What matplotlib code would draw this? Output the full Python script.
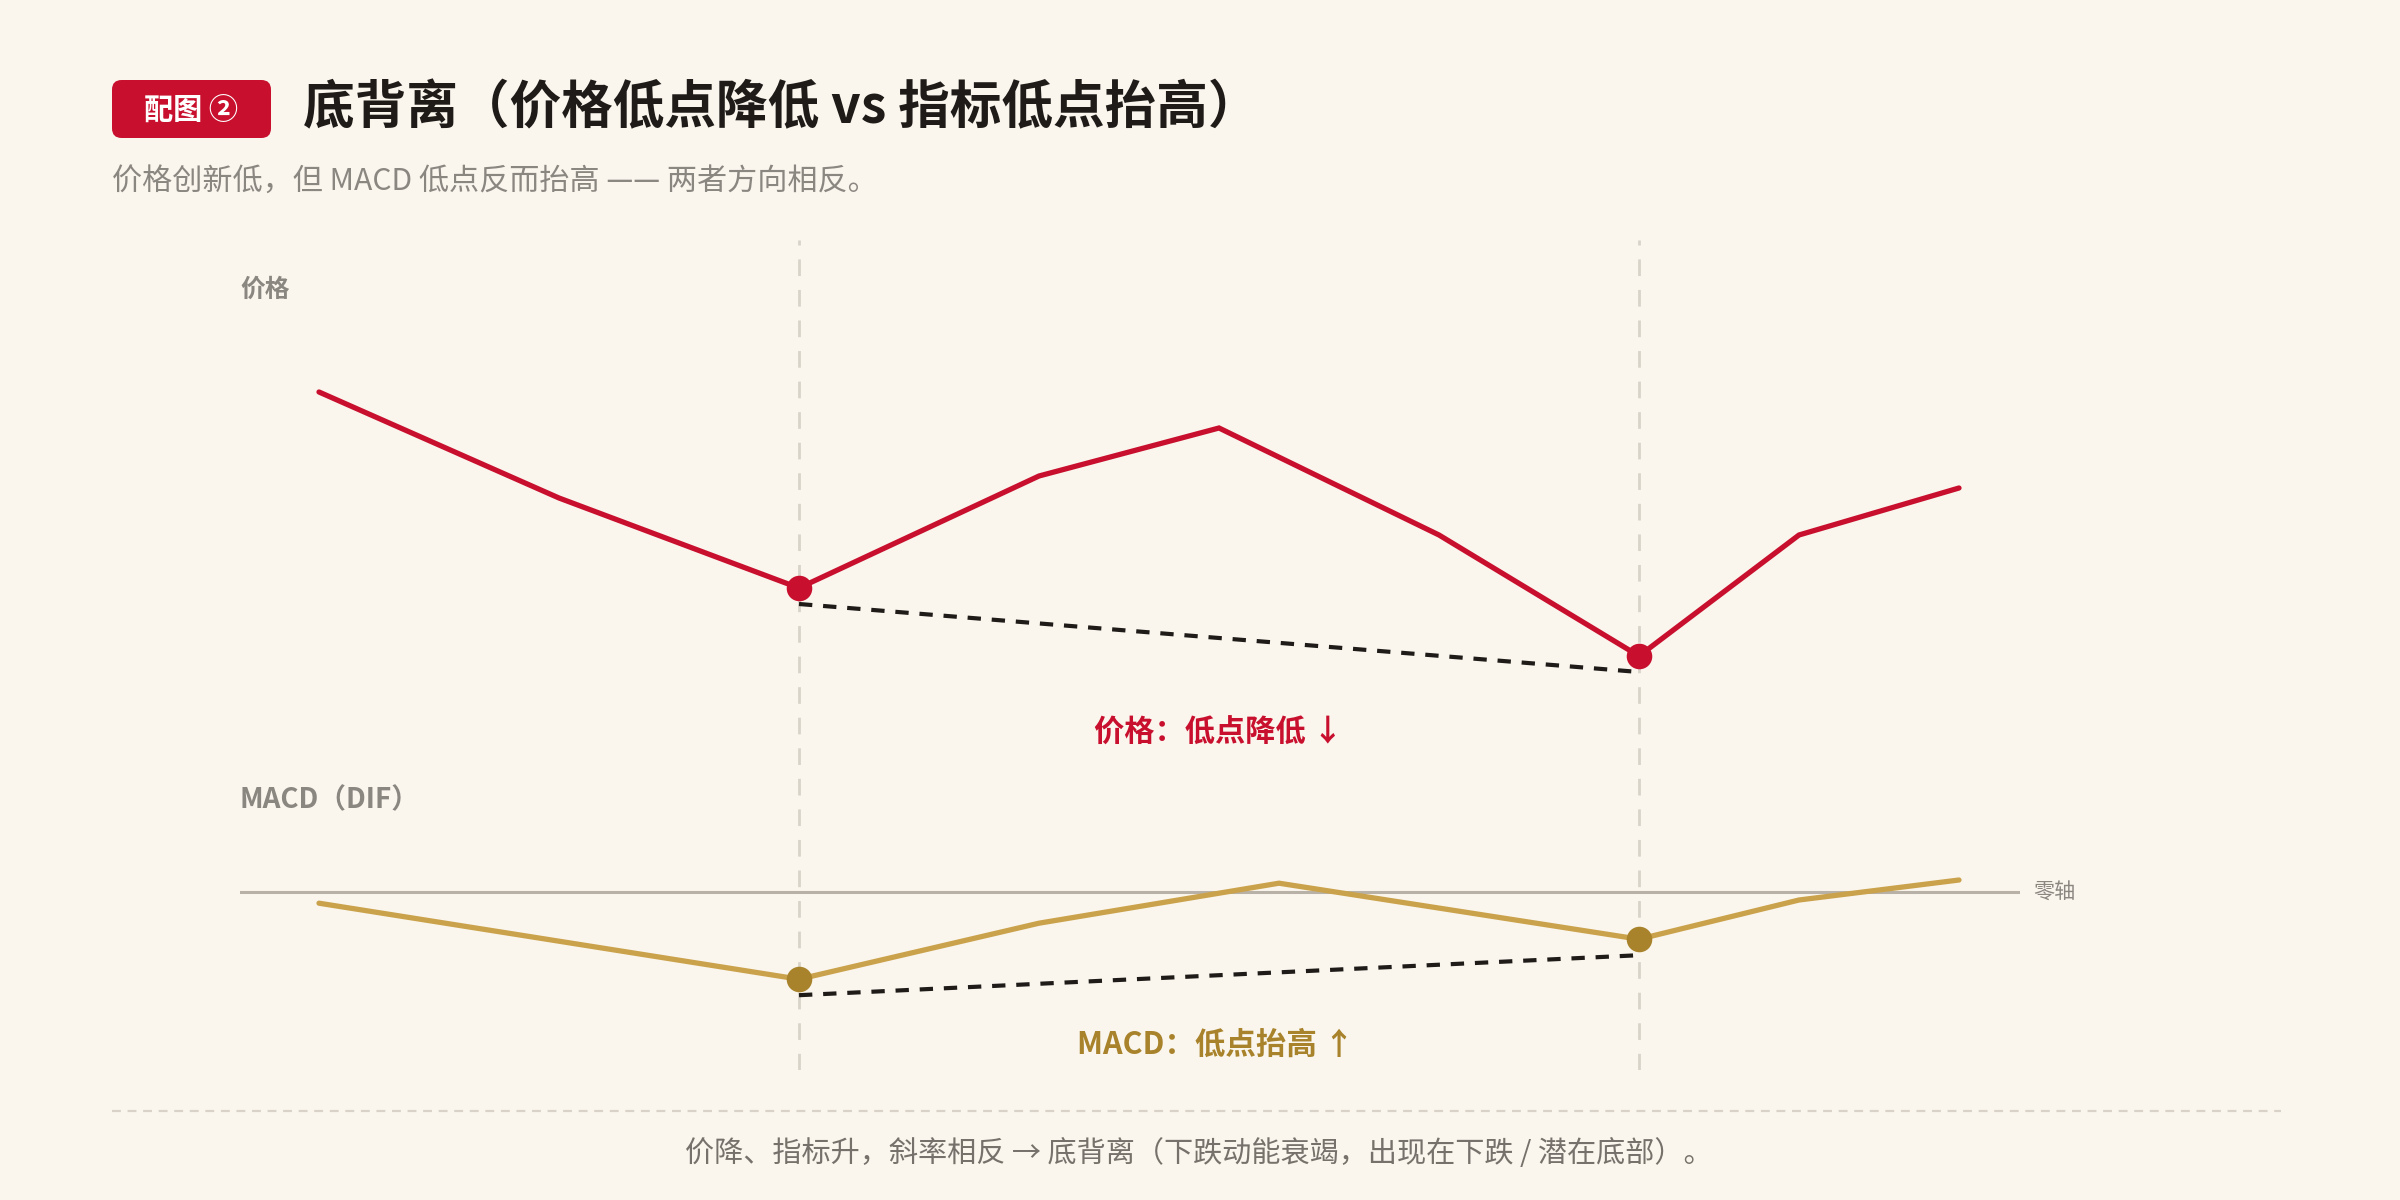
import matplotlib
matplotlib.use("Agg")
import matplotlib.pyplot as plt
from matplotlib.patches import FancyBboxPatch
from matplotlib.lines import Line2D
from matplotlib.transforms import offset_copy

plt.rcParams['font.family'] = ['Noto Sans CJK SC', 'DejaVu Sans']

# ---------------- data ----------------
price_x = [0, 12, 24, 36, 45, 56, 66, 74, 82]
price_y = [69.6, 48.4, 30.4, 52.8, 62.4, 41.0, 16.8, 41.0, 50.4]
macd_x = [0, 24, 36, 48, 66, 74, 82]
macd_y = [-0.28, -2.18, -0.78, 0.22, -1.18, -0.20, 0.30]
low_x = [24, 66]                 # the two troughs
price_lows = [30.4, 16.8]
macd_lows = [-2.18, -1.18]

title = "底背离（价格低点降低 vs 指标低点抬高）"
badge = "配图 ②"
subtitle = "价格创新低，但 MACD 低点反而抬高 —— 两者方向相反。"
price_label = "价格"
macd_label = "MACD（DIF）"
price_note = "价格：低点降低 ↓"
macd_note = "MACD：低点抬高 ↑"
zero_label = "零轴"
footer = "价降、指标升，斜率相反 → 底背离（下跌动能衰竭，出现在下跌 / 潜在底部）。"

# ---------------- style ----------------
BG = "#FAF6EE"
RED = "#C8102E"
GOLD = "#CBA24C"
GOLD_DK = "#A8832C"
GRAY = "#8A8680"
DARK = "#1E1B18"

W, H = 2400, 1200
fig = plt.figure(figsize=(12, 6), dpi=200, facecolor=BG)

def fx(x):
    return x / W

def fy(y):
    return 1 - y / H

def add_axes_px(x0, y0, x1, y1):
    ax = fig.add_axes([fx(x0), fy(y1), (x1 - x0) / W, (y1 - y0) / H])
    ax.set_facecolor("none")
    ax.axis("off")
    return ax

XL = (-3.95, 85.05)

# overlay axes for the vertical guide lines
ax_v = add_axes_px(240, 240, 2020, 1070)
ax_v.set_xlim(*XL)
ax_v.set_ylim(0, 1)
for xv in low_x:
    ax_v.axvline(xv, color="#D9D4CA", lw=1.0, ls=(0, (6, 5)), zorder=1)

# price axes
ax_p = add_axes_px(240, 240, 2020, 740)
ax_p.set_xlim(*XL)
ax_p.set_ylim(0, 100)
ax_p.plot(price_x, price_y, color=RED, lw=1.9, solid_joinstyle="miter",
          solid_capstyle="round", zorder=3)
ax_p.plot(low_x, price_lows, "o", color=RED, ms=8.2, zorder=4)
tr_p = offset_copy(ax_p.transData, fig=fig, x=0, y=-16, units="dots")
ax_p.plot(low_x, price_lows, color="#1E1B18", lw=1.5, ls=(0, (3.2, 2.6)),
          transform=tr_p, zorder=3)

# MACD axes
ax_m = add_axes_px(240, 800, 2020, 1070)
ax_m.set_xlim(*XL)
ax_m.set_ylim(-4.45, 2.3)
ax_m.axhline(0, color="#B7B1A7", lw=1.1, zorder=2)
ax_m.plot(macd_x, macd_y, color=GOLD, lw=1.9, solid_joinstyle="miter",
          solid_capstyle="round", zorder=3)
ax_m.plot(low_x, macd_lows, "o", color=GOLD_DK, ms=8.2, zorder=4)
tr_m = offset_copy(ax_m.transData, fig=fig, x=0, y=-16, units="dots")
ax_m.plot(low_x, macd_lows, color="#1E1B18", lw=1.5, ls=(0, (3.2, 2.6)),
          transform=tr_m, zorder=3)

# ---------------- header ----------------
bx0, by0, bx1, by1 = 112, 80, 271, 138
fig.patches.append(FancyBboxPatch((fx(bx0), fy(by1)), (bx1 - bx0) / W, (by1 - by0) / H,
                                  boxstyle="round,pad=0,rounding_size=0.004",
                                  transform=fig.transFigure, facecolor=RED,
                                  edgecolor="none", mutation_aspect=2))
fig.text(fx((bx0 + bx1) / 2), fy(110), badge, color="white", fontsize=10.5,
         fontweight="bold", ha="center", va="center")
fig.text(fx(303), fy(108), title, color=DARK, fontsize=18.6, fontweight="bold",
         ha="left", va="center")
fig.text(fx(112), fy(181), subtitle, color=GRAY, fontsize=10.85,
         ha="left", va="center")

# ---------------- labels ----------------
fig.text(fx(240), fy(290), price_label, color=GRAY, fontsize=8.9,
         fontweight="bold", ha="left", va="center")
fig.text(fx(240), fy(800), macd_label, color=GRAY, fontsize=10.0,
         fontweight="semibold", ha="left", va="center")
fig.text(fx(1218), fy(733), price_note, color=RED, fontsize=10.9,
         fontweight="bold", ha="center", va="center")
fig.text(fx(1216), fy(1045), macd_note, color=GOLD_DK, fontsize=11.0,
         fontweight="bold", ha="center", va="center")
fig.text(fx(2033), fy(892), zero_label, color=GRAY, fontsize=7.6,
         ha="left", va="center")

# ---------------- footer ----------------
fig.add_artist(Line2D([fx(112), fx(2281)], [fy(1111), fy(1111)],
                      transform=fig.transFigure, color="#D8D2C8", lw=0.8,
                      ls=(0, (4, 3))))
fig.text(fx(1199), fy(1154), footer, color="#76716A", fontsize=10.5,
         ha="center", va="center")

fig.savefig("out.png", dpi=200, facecolor=BG)
